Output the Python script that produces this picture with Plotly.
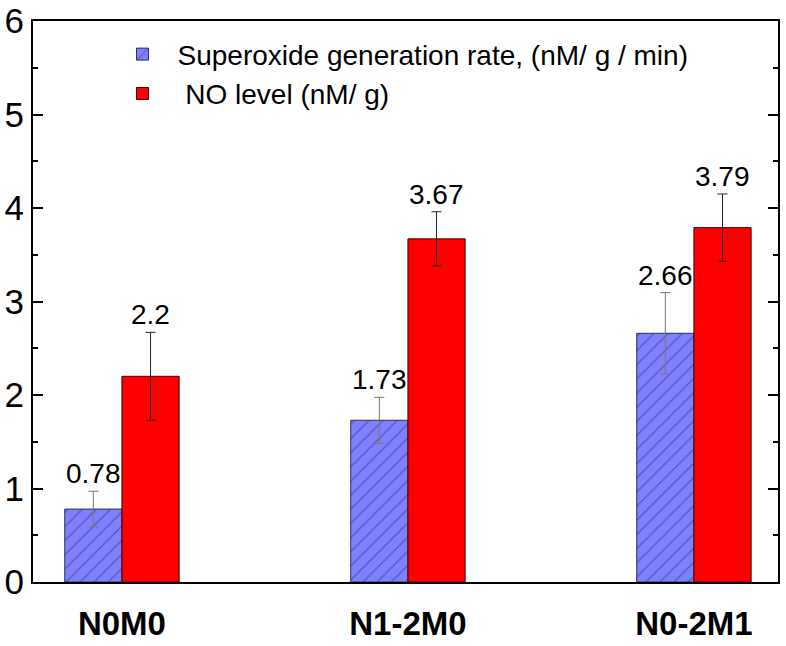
import plotly.graph_objects as go

categories = ["N0M0", "N1-2M0", "N0-2M1"]
superoxide = [0.78, 1.73, 2.66]
superoxide_err = [0.19, 0.245, 0.435]
no_level = [2.2, 3.67, 3.79]
no_err = [0.47, 0.29, 0.36]
series_names = ["Superoxide generation rate, (nM/ g / min)", " NO level (nM/ g)"]
value_labels_a = ["0.78", "1.73", "2.66"]
value_labels_b = ["2.2", "3.67", "3.79"]

xpos = list(range(len(categories)))
BAR_W = 0.2

fig = go.Figure()
fig.add_trace(go.Bar(
    x=xpos, y=superoxide, name=series_names[0], width=BAR_W, offset=-BAR_W,
    marker=dict(color="#8080ff", line=dict(color="#303050", width=1),
                pattern=dict(shape="/", fgcolor="#2a2a70", bgcolor="#8080ff", size=10, solidity=0.12)),
    error_y=dict(type="data", array=superoxide_err, color="#777777", thickness=1, width=5),
))
fig.add_trace(go.Bar(
    x=xpos, y=no_level, name=series_names[1], width=BAR_W, offset=0,
    marker=dict(color="#ff0000", line=dict(color="#400000", width=1)),
    error_y=dict(type="data", array=no_err, color="#222222", thickness=1, width=5),
))

for i in xpos:
    fig.add_annotation(x=i - BAR_W / 2, y=superoxide[i] + superoxide_err[i], text=value_labels_a[i],
                       showarrow=False, yanchor="bottom", font=dict(size=28, color="black"))
    fig.add_annotation(x=i + BAR_W / 2, y=no_level[i] + no_err[i], text=value_labels_b[i],
                       showarrow=False, yanchor="bottom", font=dict(size=28, color="black"))

fig.update_layout(
    width=786, height=646,
    margin=dict(l=33, r=8, t=21, b=64),
    paper_bgcolor="white", plot_bgcolor="white",
    font=dict(family="Liberation Sans, Arial, sans-serif", color="black"),
    showlegend=True,
    legend=dict(x=0.10, y=0.985, xanchor="left", yanchor="top",
                font=dict(size=28), bgcolor="rgba(0,0,0,0)", itemwidth=60,
                tracegroupgap=0),
    bargap=0.6,
)
fig.update_xaxes(
    range=[-0.311, 2.294], tickmode="array", tickvals=xpos, ticktext=categories,
    showline=True, linecolor="black", linewidth=2, mirror=True, ticks="",
    showgrid=False, zeroline=False, automargin=False, ticklabelstandoff=11,
    tickfont=dict(size=33, family="Liberation Sans, Arial, sans-serif", weight="bold"),
)
fig.update_yaxes(
    range=[0, 6], dtick=1, tick0=0, showline=True, linecolor="black", linewidth=2,
    mirror="ticks", ticks="inside", ticklen=10, tickwidth=2, tickcolor="black",
    minor=dict(dtick=0.5, ticks="inside", ticklen=5, tickwidth=2, tickcolor="black", showgrid=False),
    showgrid=False, zeroline=False, ticklabelstandoff=0, automargin=False,
    tickfont=dict(size=35),
)

fig.write_html("out.html", config={"displayModeBar": False},
               post_script="document.body.style.margin='0px';")
